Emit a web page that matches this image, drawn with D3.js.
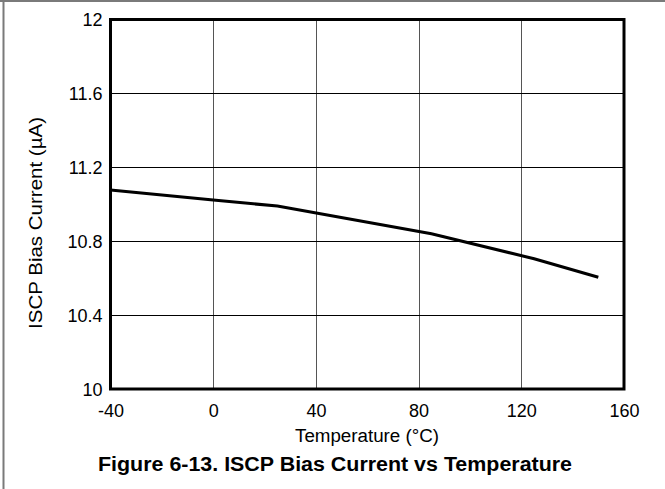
<!DOCTYPE html>
<html><head><meta charset="utf-8">
<script src="https://cdn.jsdelivr.net/npm/d3@7"></script>
<style>body{margin:0;background:#fff}svg{display:block}</style>
</head><body>
<svg id="c" width="665" height="489"></svg>
<script>
const temps = [-40, 0, 25, 85, 125, 150];
const biasCurrent = [11.077, 11.023, 10.99, 10.84, 10.705, 10.605];
const xTicks = [-40, 0, 40, 80, 120, 160];
const yTicks = [10, 10.4, 10.8, 11.2, 11.6, 12];
const xLabel = "Temperature (\u00B0C)";
const yLabel = "ISCP Bias Current (\u00B5A)";
const title = "Figure 6-13. ISCP Bias Current vs Temperature";

const svg = d3.select("#c");
const L = 110.5, R = 624, T = 19.5, B = 389;
const x = d3.scaleLinear().domain([-40, 160]).range([L, R]);
const y = d3.scaleLinear().domain([10, 12]).range([B, T]);
const font = "Arial, 'Liberation Sans', sans-serif";

// outer frame
svg.append("line").attr("x1", 0).attr("x2", 665).attr("y1", 1).attr("y2", 1).attr("stroke", "#7a7a7a").attr("stroke-width", 2);
svg.append("line").attr("x1", 3.5).attr("x2", 3.5).attr("y1", 0).attr("y2", 489).attr("stroke", "#7a7a7a").attr("stroke-width", 2);

// grid
svg.append("g").selectAll("line").data(xTicks.slice(1, -1)).join("line")
  .attr("x1", d => Math.round(x(d)) + 0.5).attr("x2", d => Math.round(x(d)) + 0.5)
  .attr("y1", T).attr("y2", B).attr("stroke", "#555").attr("stroke-width", 1);
svg.append("g").selectAll("line").data(yTicks.slice(1, -1)).join("line")
  .attr("y1", d => Math.round(y(d)) + 0.5).attr("y2", d => Math.round(y(d)) + 0.5)
  .attr("x1", L).attr("x2", R).attr("stroke", "#000").attr("stroke-width", 1);

// axes (labels only)
const xa = svg.append("g").attr("transform", `translate(0,${B})`)
  .call(d3.axisBottom(x).tickValues(xTicks).tickSize(0).tickPadding(15).tickFormat(d => String(d)));
const ya = svg.append("g").attr("transform", `translate(${L},0)`)
  .call(d3.axisLeft(y).tickValues(yTicks).tickSize(0).tickPadding(8).tickFormat(d => String(+d.toFixed(1))));
[xa, ya].forEach(a => {
  a.select(".domain").remove();
  a.attr("font-size", null).attr("font-family", null);
  a.selectAll("text").style("font-family", font).style("font-size", "18px").attr("fill", "#000");
});
xa.selectAll("text").attr("dy", "0.71em");
ya.selectAll("text").attr("dy", "0.35em");

// plot frame
svg.append("rect").attr("x", L).attr("y", T).attr("width", R - L).attr("height", B - T)
  .attr("fill", "none").attr("stroke", "#000").attr("stroke-width", 3);

// data line
svg.append("path").datum(temps.map((t, i) => [t, biasCurrent[i]]))
  .attr("d", d3.line().x(d => x(d[0])).y(d => y(d[1])))
  .attr("fill", "none").attr("stroke", "#000").attr("stroke-width", 3);

// labels
svg.append("text").attr("x", 367).attr("y", 442).attr("text-anchor", "middle")
  .attr("textLength", 144).attr("lengthAdjust", "spacingAndGlyphs")
  .style("font-family", font).style("font-size", "18px").text(xLabel);
svg.append("text").attr("transform", `translate(42,223) rotate(-90)`).attr("text-anchor", "middle")
  .attr("textLength", 212).attr("lengthAdjust", "spacingAndGlyphs")
  .style("font-family", font).style("font-size", "18px").text(yLabel);
svg.append("text").attr("x", 335).attr("y", 471).attr("text-anchor", "middle")
  .attr("textLength", 474).attr("lengthAdjust", "spacingAndGlyphs")
  .style("font-family", font).style("font-size", "20px").style("font-weight", "bold").text(title);
</script>
</body></html>
